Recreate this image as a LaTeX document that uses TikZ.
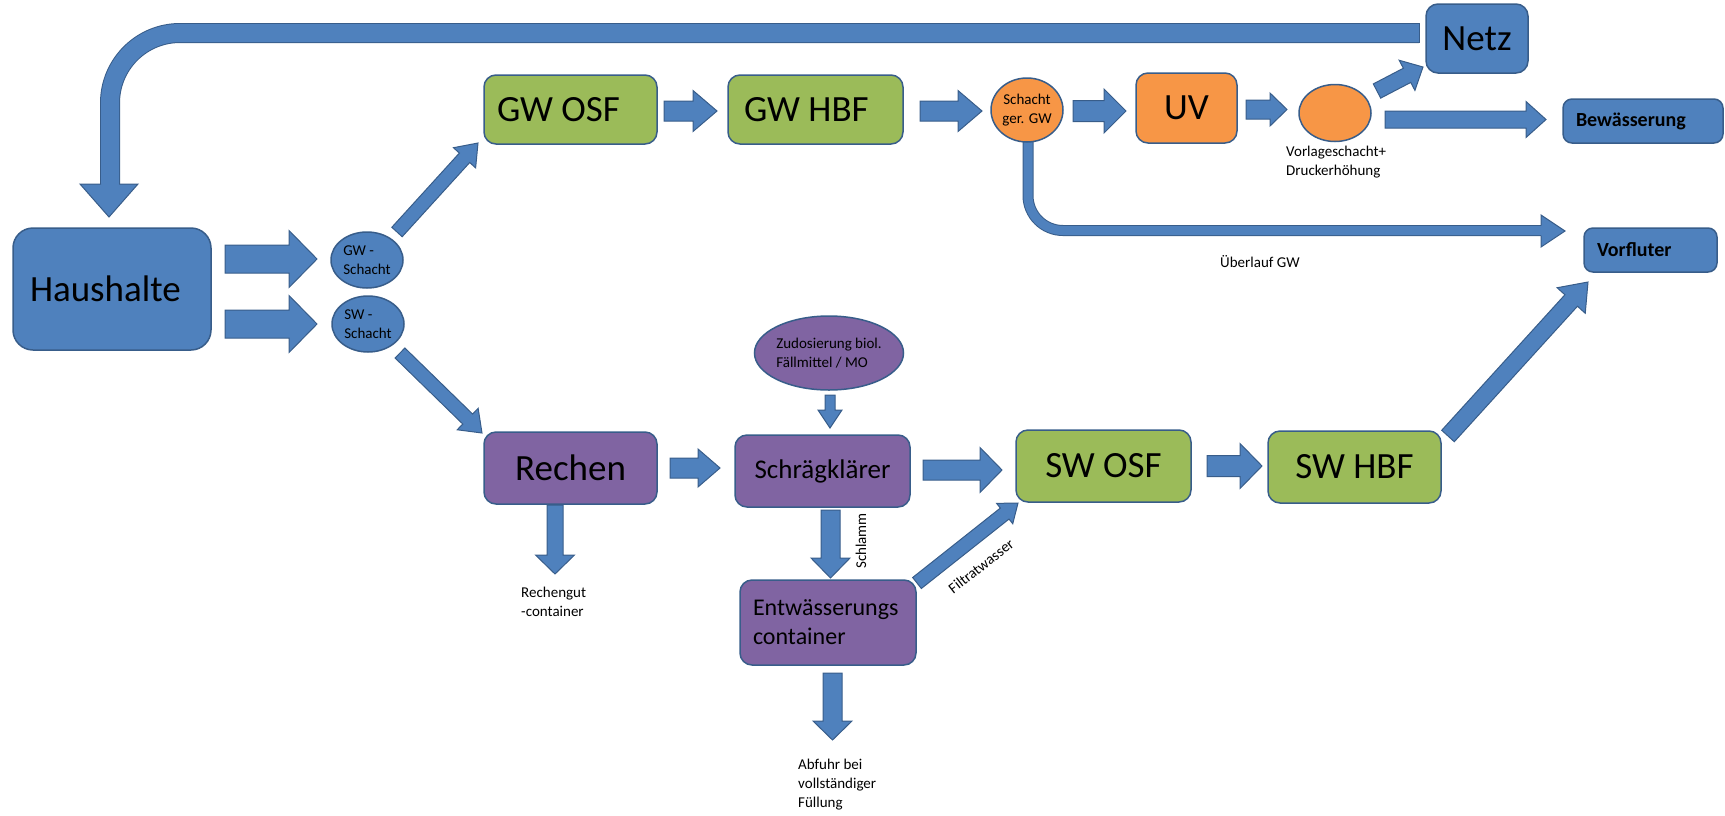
\documentclass[tikz,border=0pt]{standalone}
\usepackage{fontspec}
\setmainfont{Carlito}
\usetikzlibrary{calc,shapes.geometric}
\definecolor{fblue}{HTML}{4F81BD}
\definecolor{bline}{HTML}{385D8A}
\definecolor{fgreen}{HTML}{9BBB59}
\definecolor{fpurple}{HTML}{8064A2}
\definecolor{forange}{HTML}{F79646}
\tikzset{
  box/.style={draw=bline, line width=1.5pt, rounded corners=12pt, inner sep=0pt, align=center},
  oval/.style={ellipse, draw=bline, line width=1.5pt, inner sep=0pt, align=left},
  big/.style={font=\fontsize{37}{44}\selectfont},
  mid/.style={font=\fontsize{27}{32}\selectfont},
  ent/.style={font=\fontsize{24}{29}\selectfont},
  small/.style={font=\fontsize{15}{19}\selectfont, inner sep=0pt, align=left},
  tiny/.style={font=\fontsize{13}{16}\selectfont, inner sep=0pt},
  boldlab/.style={font=\fontsize{20}{24}\selectfont\bfseries},
  barrow/.style={fill=fblue, draw=bline, line width=1pt, line join=miter},
  curvedconn/.style={draw=bline, line width=1pt, double=fblue}
}
\newcommand{\blockarr}[5]{%
  \path (#1) coordinate (ba-s) (#2) coordinate (ba-e);
  \path ($(ba-e)!#5!(ba-s)$) coordinate (ba-h);
  \filldraw[barrow] ($(ba-s)!#3!90:(ba-e)$) -- ($(ba-h)!#3!-90:(ba-s)$) -- ($(ba-h)!#4!-90:(ba-s)$) -- (ba-e) -- ($(ba-h)!#4!90:(ba-s)$) -- ($(ba-h)!#3!90:(ba-s)$) -- ($(ba-s)!#3!-90:(ba-e)$) -- cycle;}
\begin{document}
\begin{tikzpicture}[x=1pt,y=-1pt]
\useasboundingbox (0,0) rectangle (1725,815);

% curved connectors (drawn first)
\coordinate (retS) at (1419,33);
\coordinate (retC) at (110,33);
\coordinate (retE) at (110,185);
\draw[curvedconn, double distance=18pt, rounded corners=70pt] (retS) -- (retC) -- (retE);
\draw[bline, line width=1pt] (1419,23) -- (1419,43);
\filldraw[barrow] (101,184) -- (80,184) -- (109,217) -- (138,184) -- (119,184);

\coordinate (ovS) at (1028,141);
\coordinate (ovC) at (1028,230.5);
\coordinate (ovE) at (1542,230.5);
\draw[curvedconn, double distance=9pt, rounded corners=35pt] (ovS) -- (ovC) -- (ovE);
\filldraw[barrow] (1541,225.5) -- (1541,215) -- (1565,231) -- (1541,247) -- (1541,235.5);

% nodes
\node[box, fill=fblue, minimum width=198pt, minimum height=122pt, rounded corners=20pt, big, text width=164pt, align=flush left] (hh) at (112,289) {Haushalte};
\node[oval, fill=fblue, minimum width=72pt, minimum height=56pt, small] (gws) at (367,260) {GW -\\Schacht};
\node[oval, fill=fblue, minimum width=72pt, minimum height=56pt, small] (sws) at (368,324) {SW -\\Schacht};
\node[box, fill=fgreen, minimum width=173pt, minimum height=69pt, big, text width=147pt, align=flush left] (gwosf) at (570.5,109.5) {GW OSF};
\node[box, fill=fgreen, minimum width=175pt, minimum height=69pt, big, text width=143pt, align=flush left] (gwhbf) at (815.5,109.5) {GW HBF};
\node[oval, fill=forange, minimum width=72pt, minimum height=64pt, small, align=center] (sgw) at (1027,110) {Schacht\\ger. GW};
\node[box, fill=forange, minimum width=101pt, minimum height=70pt, big] (uv) at (1186.5,108) {UV};
\node[oval, fill=forange, minimum width=72pt, minimum height=57pt] (vs) at (1335,113) {};
\node[small, anchor=north west] (vslab) at (1286,146) {Vorlageschacht+\\Druckerhöhung};
\node[box, fill=fblue, minimum width=102pt, minimum height=69pt, big] (netz) at (1477,38.5) {Netz};
\node[box, fill=fblue, minimum width=160pt, minimum height=44pt, rounded corners=9pt, boldlab, text width=134pt, align=flush left] (bew) at (1643,121) {Bewässerung};
\node[box, fill=fblue, minimum width=133pt, minimum height=44pt, rounded corners=9pt, boldlab, text width=107pt, align=flush left] (vorf) at (1650.5,250) {Vorfluter};
\node[small, anchor=west] (ovlab) at (1220,262) {Überlauf GW};

\node[box, fill=fpurple, minimum width=173pt, minimum height=72pt, big] (rechen) at (570.5,468) {Rechen};
\node[box, fill=fpurple, minimum width=175pt, minimum height=72pt, mid] (sk) at (822.5,471) {Schrägklärer};
\node[oval, fill=fpurple, minimum width=148pt, minimum height=74pt, small] (zd) at (829,353) {Zudosierung biol.\\Fällmittel / MO};
\node[box, fill=fgreen, minimum width=175pt, minimum height=72pt, big] (swosf) at (1103.5,466) {SW OSF};
\node[box, fill=fgreen, minimum width=173pt, minimum height=72pt, big] (swhbf) at (1354.5,467) {SW HBF};
\node[box, fill=fpurple, minimum width=176pt, minimum height=85pt, ent, text width=150pt, align=flush left] (entw) at (828,622.5) {Entwässerungs\\container};

\node[small, anchor=north west] (rglab) at (521,587) {Rechengut\\-container};
\node[small, anchor=north west] (ablab) at (798,759) {Abfuhr bei\\vollständiger\\Füllung};
\node[small, rotate=90] (schl) at (861,541) {Schlamm};
\node[small, rotate=38] (filt) at (981,566) {Filtratwasser};
\node[tiny, anchor=west] (gwlab) at (236,259) {GW};
\node[tiny, anchor=west] (swlab) at (236,325) {SW};

% straight block arrows
\coordinate (a1s) at (225,259);   \coordinate (a1e) at (317,259);
\coordinate (a2s) at (225,324);   \coordinate (a2e) at (317,324);
\coordinate (a3s) at (397,232);   \coordinate (a3e) at (478,143);
\coordinate (a4s) at (400,353);   \coordinate (a4e) at (482,433);
\coordinate (a5s) at (664,111);   \coordinate (a5e) at (717,111);
\coordinate (a6s) at (920,111);   \coordinate (a6e) at (982,111);
\coordinate (a7s) at (1073,111);  \coordinate (a7e) at (1126,111);
\coordinate (a8s) at (1246,109.5);\coordinate (a8e) at (1287,109.5);
\coordinate (a9s) at (1377,91);   \coordinate (a9e) at (1423,67);
\coordinate (a10s) at (1385,119.5);\coordinate (a10e) at (1546,119.5);
\coordinate (a13s) at (670,468);  \coordinate (a13e) at (720,468);
\coordinate (a14s) at (830,395);  \coordinate (a14e) at (830,428);
\coordinate (a15s) at (923,470);  \coordinate (a15e) at (1002,470);
\coordinate (a16s) at (1207,466); \coordinate (a16e) at (1262,466);
\coordinate (a17s) at (1448,436); \coordinate (a17e) at (1588,282);
\coordinate (a18s) at (830.5,510);\coordinate (a18e) at (830.5,578);
\coordinate (a19s) at (832.5,673);\coordinate (a19e) at (832.5,740);
\coordinate (a20s) at (555,505);  \coordinate (a20e) at (555,574);
\coordinate (a21s) at (917,583);  \coordinate (a21e) at (1018,503);

\blockarr{a1s}{a1e}{14pt}{28.5pt}{28pt}
\blockarr{a2s}{a2e}{14pt}{28.5pt}{28pt}
\blockarr{a3s}{a3e}{7pt}{15pt}{20pt}
\blockarr{a4s}{a4e}{7pt}{15pt}{20pt}
\blockarr{a5s}{a5e}{10pt}{20.5pt}{24pt}
\blockarr{a6s}{a6e}{10pt}{20.5pt}{24pt}
\blockarr{a7s}{a7e}{10.5pt}{22pt}{22pt}
\blockarr{a8s}{a8e}{9.5pt}{16.5pt}{17pt}
\blockarr{a9s}{a9e}{8pt}{17pt}{18pt}
\blockarr{a10s}{a10e}{8.5pt}{18pt}{20pt}
\blockarr{a13s}{a13e}{10pt}{19pt}{22pt}
\blockarr{a14s}{a14e}{5pt}{12pt}{18pt}
\blockarr{a15s}{a15e}{10pt}{22.5pt}{22pt}
\blockarr{a16s}{a16e}{10.5pt}{22.5pt}{22pt}
\blockarr{a17s}{a17e}{8.5pt}{19pt}{25pt}
\blockarr{a18s}{a18e}{9.5pt}{19.5pt}{20pt}
\blockarr{a19s}{a19e}{9.5pt}{19.5pt}{19pt}
\blockarr{a20s}{a20e}{8pt}{19.5pt}{19pt}
\blockarr{a21s}{a21e}{7pt}{13pt}{17pt}
\end{tikzpicture}
\end{document}
